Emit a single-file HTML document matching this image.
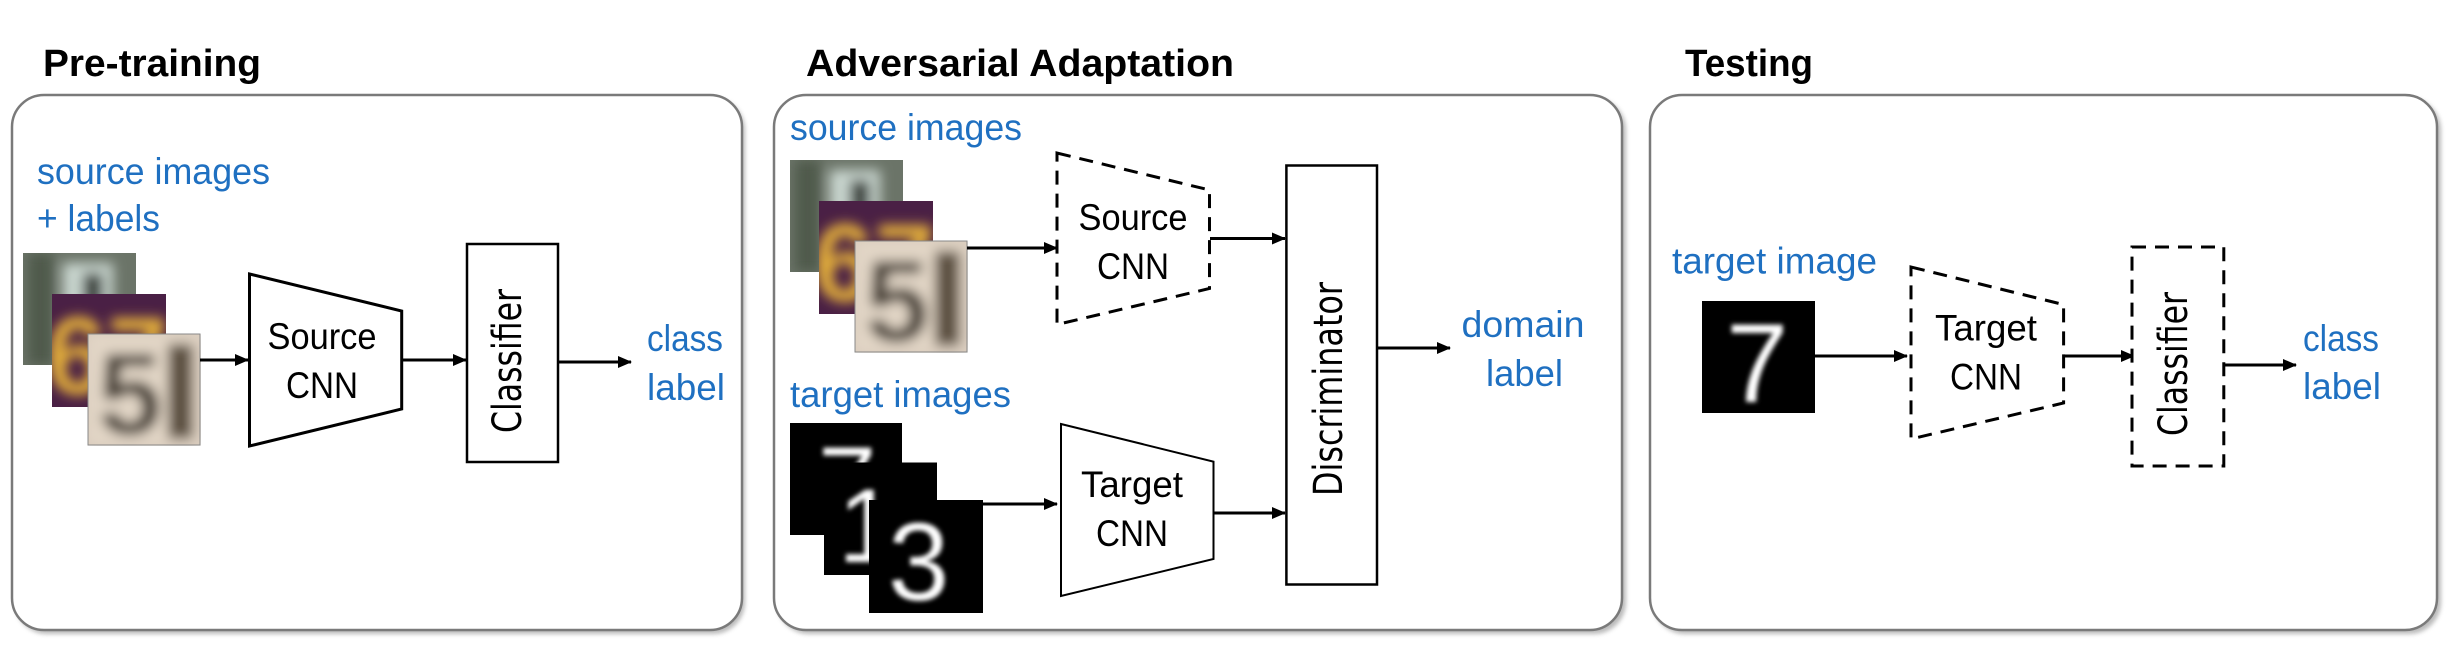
<!DOCTYPE html>
<html><head><meta charset="utf-8"><style>
html,body{margin:0;padding:0;background:#fff;}
svg{display:block;}
.t{font-family:"Liberation Sans",sans-serif;font-weight:bold;font-size:38px;fill:#000;}
.b{font-family:"Liberation Sans",sans-serif;font-size:37px;fill:#1F70C1;}
.k{font-family:"Liberation Sans",sans-serif;font-size:37px;fill:#000;}
.v{font-family:"DejaVu Sans",sans-serif;font-size:40px;fill:#000;}
</style></head><body>
<svg width="2456" height="666" viewBox="0 0 2456 666" xmlns="http://www.w3.org/2000/svg">
<defs>
<marker id="ah" markerWidth="14" markerHeight="12" refX="13" refY="6" orient="auto" markerUnits="userSpaceOnUse">
<path d="M0,0 L14,6 L0,12 Z" fill="#000"/>
</marker>
<filter id="bl" x="-20%" y="-20%" width="140%" height="140%"><feGaussianBlur stdDeviation="6"/></filter>
<filter id="bl2" x="-20%" y="-20%" width="140%" height="140%"><feGaussianBlur stdDeviation="2.5"/></filter>
<filter id="sh" x="-5%" y="-5%" width="110%" height="110%"><feGaussianBlur stdDeviation="2"/></filter>
<clipPath id="c1"><rect x="0" y="0" width="113" height="112"/></clipPath>
<clipPath id="c2"><rect x="0" y="0" width="114" height="113"/></clipPath>
<g id="svhn">
 <g>
  <rect x="0" y="0" width="113" height="112" fill="#6b7468"/>
  <g clip-path="url(#c1)" filter="url(#bl)"><rect x="40" y="10" width="50" height="100" fill="#c9d6cf"/><rect x="5" y="0" width="25" height="112" fill="#4f5a4c"/><rect x="60" y="20" width="20" height="70" fill="#39403a"/></g>
 </g>
 <g transform="translate(29,41)">
  <rect x="0" y="0" width="114" height="113" fill="#4a2045"/>
  <g clip-path="url(#c2)" filter="url(#bl)"><text x="-6" y="100" font-family="Liberation Sans" font-weight="bold" font-size="110" fill="#e5b13a">67</text></g>
 </g>
 <g transform="translate(65,81)">
  <rect x="0" y="0" width="112" height="111" fill="#d9cbbd"/>
  <g clip-path="url(#c1)" filter="url(#bl)"><rect x="0" y="0" width="112" height="111" fill="#e2d6c6"/><text x="10" y="100" font-family="Liberation Sans" font-weight="bold" font-size="115" fill="#3a3026">5</text><rect x="80" y="10" width="25" height="95" fill="#5b5040"/></g>
  <rect x="0" y="0" width="112" height="111" fill="none" stroke="#888" stroke-width="1"/>
 </g>
</g>
</defs>

<g filter="url(#sh)" opacity="0.5">
<rect x="15" y="98" width="730" height="536" rx="32" fill="#777"/>
<rect x="777" y="98" width="849" height="536" rx="32" fill="#777"/>
<rect x="1653" y="98" width="788" height="536" rx="32" fill="#777"/>
</g>
<rect x="12" y="95" width="730" height="535" rx="32" fill="#fff" stroke="#7a7a7a" stroke-width="2.5"/>
<rect x="774" y="95" width="848" height="535" rx="32" fill="#fff" stroke="#7a7a7a" stroke-width="2.5"/>
<rect x="1650" y="95" width="787" height="535" rx="32" fill="#fff" stroke="#7a7a7a" stroke-width="2.5"/>

<text class="t" x="43" y="76" textLength="218" lengthAdjust="spacingAndGlyphs">Pre-training</text>
<text class="t" x="806" y="76" textLength="428" lengthAdjust="spacingAndGlyphs">Adversarial Adaptation</text>
<text class="t" x="1685" y="76" textLength="128" lengthAdjust="spacingAndGlyphs">Testing</text>

<text class="b" x="37" y="184" textLength="233" lengthAdjust="spacingAndGlyphs">source images</text>
<text class="b" x="37" y="231" textLength="123" lengthAdjust="spacingAndGlyphs">+ labels</text>
<use href="#svhn" transform="translate(23,253)"/>
<line x1="200" y1="360" x2="248" y2="360" stroke="#000" stroke-width="3" marker-end="url(#ah)"/>
<polygon points="249.5,274 401.7,311 401.7,409 249.5,446" fill="#fff" stroke="#000" stroke-width="3"/>
<text class="k" x="322" y="349" text-anchor="middle" textLength="109" lengthAdjust="spacingAndGlyphs">Source</text>
<text class="k" x="322" y="398" text-anchor="middle" textLength="72" lengthAdjust="spacingAndGlyphs">CNN</text>
<line x1="402" y1="360" x2="466" y2="360" stroke="#000" stroke-width="3" marker-end="url(#ah)"/>
<rect x="467" y="244" width="91" height="218" fill="#fff" stroke="#000" stroke-width="2.5"/>
<text class="v" transform="translate(521,361) rotate(-90)" text-anchor="middle" textLength="144" lengthAdjust="spacingAndGlyphs">Classifier</text>
<line x1="558" y1="362" x2="631" y2="362" stroke="#000" stroke-width="3" marker-end="url(#ah)"/>
<text class="b" x="647" y="351" textLength="76" lengthAdjust="spacingAndGlyphs">class</text>
<text class="b" x="647" y="400" textLength="78" lengthAdjust="spacingAndGlyphs">label</text>

<text class="b" x="790" y="140" textLength="232" lengthAdjust="spacingAndGlyphs">source images</text>
<use href="#svhn" transform="translate(790,160)"/>
<line x1="967" y1="248" x2="1057" y2="248" stroke="#000" stroke-width="3" marker-end="url(#ah)"/>
<polygon points="1057,153 1209.5,190 1209.5,288.5 1057,324.5" fill="#fff" stroke="#000" stroke-width="3" stroke-dasharray="14,9"/>
<text class="k" x="1133" y="230" text-anchor="middle" textLength="109" lengthAdjust="spacingAndGlyphs">Source</text>
<text class="k" x="1133" y="279" text-anchor="middle" textLength="72" lengthAdjust="spacingAndGlyphs">CNN</text>
<line x1="1210" y1="238.5" x2="1285" y2="238.5" stroke="#000" stroke-width="3" marker-end="url(#ah)"/>

<text class="b" x="790" y="407" textLength="221" lengthAdjust="spacingAndGlyphs">target images</text>
<g>
 <rect x="790" y="423" width="112" height="112" fill="#000"/>
 <text x="818" y="520" font-family="Liberation Sans" font-size="105" fill="#fff" filter="url(#bl2)">7</text>
 <rect x="824" y="462.5" width="113" height="112.5" fill="#000"/>
 <text x="838" y="562" font-family="Liberation Sans" font-size="105" fill="#fff" filter="url(#bl2)">1</text>
 <rect x="869" y="500" width="114" height="113" fill="#000"/>
 <text x="888" y="600" font-family="Liberation Sans" font-size="110" fill="#fff" filter="url(#bl2)">3</text>
</g>
<line x1="983" y1="504" x2="1057" y2="504" stroke="#000" stroke-width="3" marker-end="url(#ah)"/>
<polygon points="1061,424 1213.5,461.6 1213.5,559 1061,596" fill="#fff" stroke="#000" stroke-width="2"/>
<text class="k" x="1132" y="497" text-anchor="middle" textLength="102" lengthAdjust="spacingAndGlyphs">Target</text>
<text class="k" x="1132" y="546" text-anchor="middle" textLength="72" lengthAdjust="spacingAndGlyphs">CNN</text>
<line x1="1214" y1="513" x2="1285" y2="513" stroke="#000" stroke-width="3" marker-end="url(#ah)"/>

<rect x="1286.4" y="165.5" width="90.6" height="419" fill="#fff" stroke="#000" stroke-width="2.5"/>
<text class="v" transform="translate(1342,389) rotate(-90)" text-anchor="middle" textLength="214" lengthAdjust="spacingAndGlyphs">Discriminator</text>
<line x1="1377" y1="348" x2="1450" y2="348" stroke="#000" stroke-width="3" marker-end="url(#ah)"/>
<text class="b" x="1461.5" y="337" textLength="123" lengthAdjust="spacingAndGlyphs">domain</text>
<text class="b" x="1486" y="386" textLength="77" lengthAdjust="spacingAndGlyphs">label</text>

<text class="b" x="1672" y="273.6" textLength="205" lengthAdjust="spacingAndGlyphs">target image</text>
<rect x="1702" y="301" width="113" height="112" fill="#000"/>
<text x="1726" y="402" font-family="Liberation Sans" font-size="112" fill="#fff" filter="url(#bl2)">7</text>
<line x1="1815" y1="356" x2="1907" y2="356" stroke="#000" stroke-width="3" marker-end="url(#ah)"/>
<polygon points="1911,267 2063.6,304.6 2063.6,403 1911,439" fill="#fff" stroke="#000" stroke-width="3" stroke-dasharray="14,9"/>
<text class="k" x="1986" y="340.7" text-anchor="middle" textLength="102" lengthAdjust="spacingAndGlyphs">Target</text>
<text class="k" x="1986" y="389.5" text-anchor="middle" textLength="72" lengthAdjust="spacingAndGlyphs">CNN</text>
<line x1="2064" y1="356" x2="2134" y2="356" stroke="#000" stroke-width="3" marker-end="url(#ah)"/>
<rect x="2132" y="247" width="91.8" height="219" fill="#fff" stroke="#000" stroke-width="3" stroke-dasharray="14,9"/>
<text class="v" transform="translate(2187,364) rotate(-90)" text-anchor="middle" textLength="144" lengthAdjust="spacingAndGlyphs">Classifier</text>
<line x1="2224" y1="365" x2="2296" y2="365" stroke="#000" stroke-width="3" marker-end="url(#ah)"/>
<text class="b" x="2303" y="351" textLength="76" lengthAdjust="spacingAndGlyphs">class</text>
<text class="b" x="2303" y="399" textLength="78" lengthAdjust="spacingAndGlyphs">label</text>
</svg>
</body></html>
